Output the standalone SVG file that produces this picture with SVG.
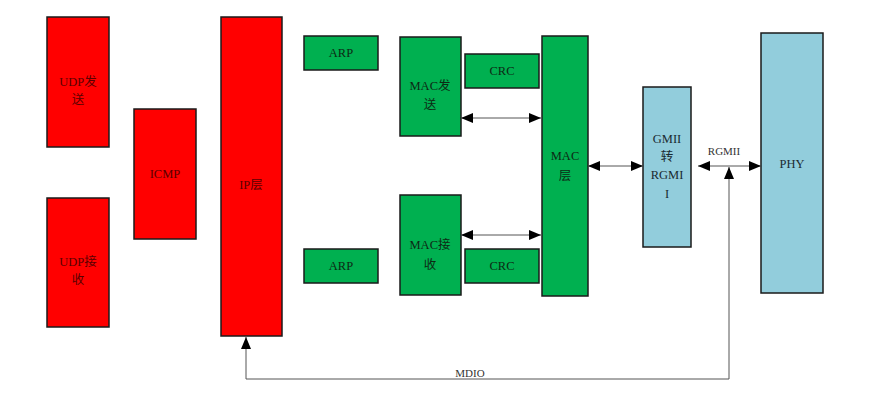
<svg xmlns="http://www.w3.org/2000/svg" width="881" height="404" viewBox="0 0 881 404">
<style>
.box{stroke:#1a1a1a;stroke-width:1.5}
.red{fill:#ff0000}
.green{fill:#00b050}
.blue{fill:#92cddc}
text{font-family:"Liberation Serif","Noto Sans CJK SC",serif;font-size:12.5px;text-anchor:middle}
.tr{fill:#5a0000}
.tg{fill:#0d2a14}
.tb{fill:#1a2a30}
.tl{fill:#333}
.ln{stroke:#555;stroke-width:1;fill:none}
</style>
<defs>
<marker id="ah" viewBox="0 0 12 10" refX="12" refY="5" markerWidth="12" markerHeight="10" markerUnits="userSpaceOnUse" orient="auto-start-reverse">
<path d="M0,0 L12,5 L0,10 Z" fill="#000"/>
</marker>
</defs>
<rect width="881" height="404" fill="#fff"/>
<g id="udp-send"><rect class="box red" x="47" y="17" width="62" height="130"/><text class="tr" x="78" y="86">UDP发</text><text class="tr" x="78" y="104">送</text></g>
<g id="udp-recv"><rect class="box red" x="47" y="198" width="62" height="129"/><text class="tr" x="78" y="266">UDP接</text><text class="tr" x="78" y="284">收</text></g>
<g id="icmp"><rect class="box red" x="134" y="109" width="62" height="130"/><text class="tr" x="165" y="178">ICMP</text></g>
<g id="ip"><rect class="box red" x="221" y="17" width="61" height="319"/><text class="tr" x="251" y="189">IP层</text></g>
<g id="arp-top"><rect class="box green" x="304" y="36" width="74" height="34"/><text class="tg" x="341" y="57">ARP</text></g>
<g id="arp-bottom"><rect class="box green" x="304" y="249" width="74" height="34"/><text class="tg" x="341" y="270">ARP</text></g>
<g id="mac-send"><rect class="box green" x="400" y="37" width="61" height="99"/><text class="tg" x="430" y="90">MAC发</text><text class="tg" x="430" y="109">送</text></g>
<g id="mac-recv"><rect class="box green" x="400" y="195" width="61" height="100"/><text class="tg" x="430" y="249">MAC接</text><text class="tg" x="430" y="269">收</text></g>
<g id="crc-top"><rect class="box green" x="465" y="54" width="74" height="34"/><text class="tg" x="502" y="75">CRC</text></g>
<g id="crc-bottom"><rect class="box green" x="465" y="249" width="74" height="34"/><text class="tg" x="502" y="270">CRC</text></g>
<g id="mac-layer"><rect class="box green" x="542" y="36" width="46" height="260"/><text class="tg" x="565" y="160">MAC</text><text class="tg" x="565" y="180">层</text></g>
<g id="gmii"><rect class="box blue" x="643" y="87" width="48" height="160"/><text class="tb" x="667" y="143">GMII</text><text class="tb" x="667" y="161">转</text><text class="tb" x="667" y="179">RGMI</text><text class="tb" x="667" y="198">I</text></g>
<g id="phy"><rect class="box blue" x="761" y="33" width="62" height="260"/><text class="tb" x="792" y="168">PHY</text></g>
<g id="connectors">
<line class="ln" x1="461" y1="118" x2="541" y2="118" marker-start="url(#ah)" marker-end="url(#ah)"/>
<line class="ln" x1="461" y1="235" x2="541" y2="235" marker-start="url(#ah)" marker-end="url(#ah)"/>
<line class="ln" x1="588" y1="166" x2="643" y2="166" marker-start="url(#ah)" marker-end="url(#ah)"/>
<line class="ln" x1="698" y1="166" x2="761" y2="166" marker-start="url(#ah)" marker-end="url(#ah)"/>
<line class="ln" x1="729" y1="379" x2="729" y2="167" marker-end="url(#ah)"/>
<polyline class="ln" points="729,379 246,379 246,337" marker-end="url(#ah)"/>
<text class="tl" x="724" y="155" style="font-size:11px">RGMII</text>
<text class="tl" x="470" y="377" style="font-size:11px">MDIO</text>
</g>
</svg>
